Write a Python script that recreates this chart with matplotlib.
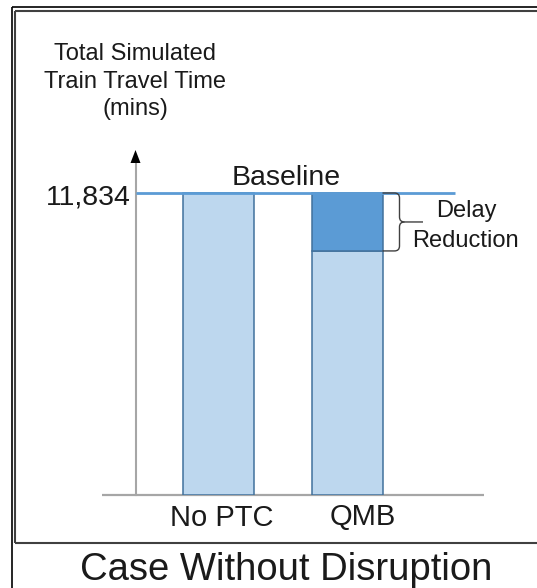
import matplotlib
matplotlib.use("Agg")
import matplotlib.pyplot as plt
from matplotlib.path import Path
from matplotlib.patches import PathPatch, Polygon
from matplotlib.lines import Line2D

# ---- data -------------------------------------------------------------
categories = ["No PTC", "QMB"]
travel_time = [11834, 9560]          # total simulated train travel time (mins)
baseline_value = 11834
baseline_label = "11,834"

# ---- figure -----------------------------------------------------------
W, H, DPI = 537, 588, 100
plt.rcParams["font.family"] = ["Liberation Sans", "DejaVu Sans"]
fig = plt.figure(figsize=(W / DPI, H / DPI), dpi=DPI)
fig.patch.set_facecolor("white")


def fx(px):
    return px / W


def fy(py):
    return 1 - py / H


# plotting area (pixel geometry of the axis frame)
x_left, x_right = 102, 484
y_zero, y_top = 494.5, 150
y_base_px = 193
bar_c0, bar_step = 218.25, 128.75
ax = fig.add_axes([fx(x_left), fy(y_zero), (x_right - x_left) / W, (y_zero - y_top) / H])
ax.set_xlim((x_left - bar_c0) / bar_step, (x_right - bar_c0) / bar_step)
ax.set_ylim(0, baseline_value * (y_zero - y_top) / (y_zero - y_base_px))
ax.axis("off")


def bx(px):
    return (px - bar_c0) / bar_step


ppy = (y_zero - y_base_px) / baseline_value   # pixels per minute

light = "#BDD7EE"
dark = "#5B9BD5"
edge = "#41719C"
grey = "#A6A6A6"

# x axis line
ax.plot([bx(x_left), bx(x_right)], [0, 0], color=grey, lw=1.6, zorder=1,
        clip_on=False, solid_capstyle="butt")
# y axis line with arrow head
y_axis_x = bx(135.5)
ax.plot([y_axis_x, y_axis_x], [0, ax.get_ylim()[1] - 10 / ppy], color=grey, lw=1.5,
        zorder=1, clip_on=False)
fig.add_artist(Polygon([[fx(135.5), fy(150)], [fx(130.5), fy(163)], [fx(140.5), fy(163)]],
                       closed=True, transform=fig.transFigure, color="black", lw=0))

# bars
xpos = list(range(len(categories)))
width = 71 / bar_step
ax.bar(xpos, travel_time, width=width, color=light, edgecolor=edge, linewidth=1.1, zorder=2)
reduction = baseline_value - travel_time[1]
ax.bar(xpos[1], reduction, bottom=travel_time[1], width=width, color=dark,
       edgecolor=edge, linewidth=1.1, zorder=2)

# baseline
ax.plot([y_axis_x, bx(455)], [baseline_value, baseline_value], color=dark, lw=2.0,
        zorder=3, clip_on=False, solid_capstyle="butt")

# brace marking the delay reduction
top, bot = baseline_value, travel_time[1]
mid = (top + bot) / 2
ry = 5 / ppy
xv = bx(399.5)
verts_top = [(bx(382.5), top), (bx(394.5), top), (xv, top), (xv, top - ry),
             (xv, mid + ry), (xv, mid), (bx(404.5), mid), (bx(423), mid)]
codes_top = [Path.MOVETO, Path.LINETO, Path.CURVE3, Path.CURVE3,
             Path.LINETO, Path.CURVE3, Path.CURVE3, Path.LINETO]
verts_bot = [(bx(404.5), mid), (xv, mid), (xv, mid - ry), (xv, bot + ry),
             (xv, bot), (bx(394.5), bot), (bx(382.5), bot)]
codes_bot = [Path.MOVETO, Path.CURVE3, Path.CURVE3, Path.LINETO,
             Path.CURVE3, Path.CURVE3, Path.LINETO]
for v, c in ((verts_top, codes_top), (verts_bot, codes_bot)):
    ax.add_patch(PathPatch(Path(v, c), fill=False, edgecolor="#404040", lw=1.0,
                           clip_on=False, zorder=3))

# ---- texts ------------------------------------------------------------
txt = "#1a1a1a"
for line, yb in zip(["Total Simulated", "Train Travel Time", "(mins)"], [60, 88, 115.5]):
    fig.text(fx(135.5), fy(yb), line, ha="center", va="baseline", fontsize=17, color=txt)
fig.text(fx(131), fy(204.5), baseline_label, ha="right", va="baseline", fontsize=20.5, color=txt)
fig.text(fx(286), fy(185), "Baseline", ha="center", va="baseline", fontsize=20.5, color=txt)
fig.text(fx(466), fy(216.7), "Delay", ha="center", va="baseline", fontsize=17, color=txt)
fig.text(fx(465), fy(246.7), "Reduction", ha="center", va="baseline", fontsize=17, color=txt)
for name, cx in zip(categories, [222, 363]):
    fig.text(fx(cx), fy(525.5), name, ha="center", va="baseline", fontsize=21, color=txt)
fig.text(fx(286), fy(580), "Case Without Disruption", ha="center", va="baseline",
         fontsize=27.5, color=txt)

# ---- double frame -----------------------------------------------------
def fline(xs, ys, **kw):
    fig.add_artist(Line2D([fx(v) for v in xs], [fy(v) for v in ys],
                          transform=fig.transFigure, solid_capstyle="butt", **kw))


fline([11.5, 11.5], [7, H], color="black", lw=1.2)
fline([11.5, W], [7, 7], color="black", lw=1.2)
fline([15, 15], [10.5, 543], color="#404040", lw=1.5)
fline([15, W], [10.5, 10.5], color="#404040", lw=1.5)
fline([15, W], [543, 543], color="#404040", lw=1.5)

fig.savefig("out.png", dpi=DPI, facecolor="white")
